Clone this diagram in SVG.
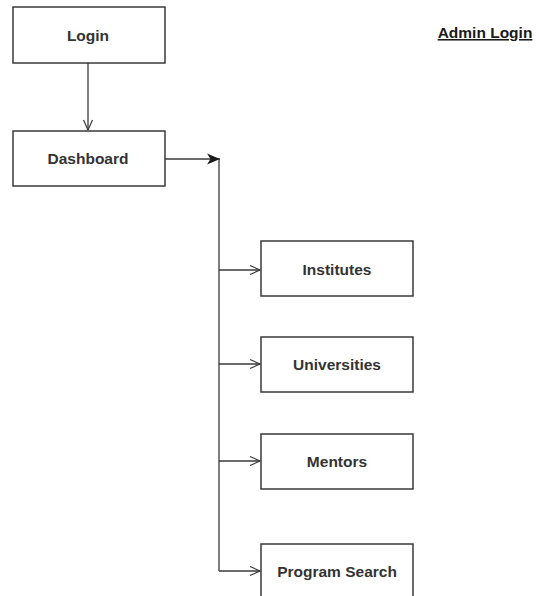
<svg xmlns="http://www.w3.org/2000/svg" width="539" height="596" viewBox="0 0 539 596">
<style>
.box{fill:#fff;stroke:#3a3a3a;stroke-width:1.5}
.lbl{font-family:"Liberation Sans",Arial,sans-serif;font-size:15.5px;font-weight:bold;fill:#333;text-anchor:middle;dominant-baseline:central}
.ln{fill:none;stroke:#3a3a3a;stroke-width:1.3}
</style>
<defs>
<marker id="open" markerWidth="12" markerHeight="12" refX="11" refY="6" orient="auto" markerUnits="userSpaceOnUse">
<path d="M1,1.5 L11,6 L1,10.5" fill="none" stroke="#3a3a3a" stroke-width="1.2"/>
</marker>
<marker id="filled" markerWidth="14" markerHeight="12" refX="13" refY="6" orient="auto" markerUnits="userSpaceOnUse">
<path d="M0,0.5 L13,6 L0,11.5 L3.5,6 Z" fill="#1a1a1a"/>
</marker>
</defs>
<rect width="539" height="596" fill="#fff"/>
<g id="connectors">
<path class="ln" d="M88,63 V130" marker-end="url(#open)"/>
<path class="ln" d="M165,159 H220" marker-end="url(#filled)"/>
<path class="ln" d="M219,159 V571"/>
<path class="ln" d="M219,270 H260" marker-end="url(#open)"/>
<path class="ln" d="M219,364 H260" marker-end="url(#open)"/>
<path class="ln" d="M219,461 H260" marker-end="url(#open)"/>
<path class="ln" d="M219,571 H260" marker-end="url(#open)"/>
</g>
<g id="login"><rect class="box" x="13" y="7" width="152" height="56"/><text class="lbl" x="88" y="35">Login</text></g>
<g id="dashboard"><rect class="box" x="13" y="131" width="152" height="55"/><text class="lbl" x="88" y="158">Dashboard</text></g>
<g id="institutes"><rect class="box" x="261" y="241" width="152" height="55"/><text class="lbl" x="337" y="269">Institutes</text></g>
<g id="universities"><rect class="box" x="261" y="337" width="152" height="55"/><text class="lbl" x="337" y="364">Universities</text></g>
<g id="mentors"><rect class="box" x="261" y="434" width="152" height="55"/><text class="lbl" x="337" y="461">Mentors</text></g>
<g id="program-search"><rect class="box" x="261" y="544" width="152" height="60"/><text class="lbl" x="337" y="571">Program Search</text></g>
<g id="admin-login"><text x="485" y="38" style="font-family:'Liberation Sans',Arial,sans-serif;font-size:15.5px;font-weight:bold;fill:#1a1a1a;text-anchor:middle;text-decoration:underline">Admin Login</text></g>
</svg>
